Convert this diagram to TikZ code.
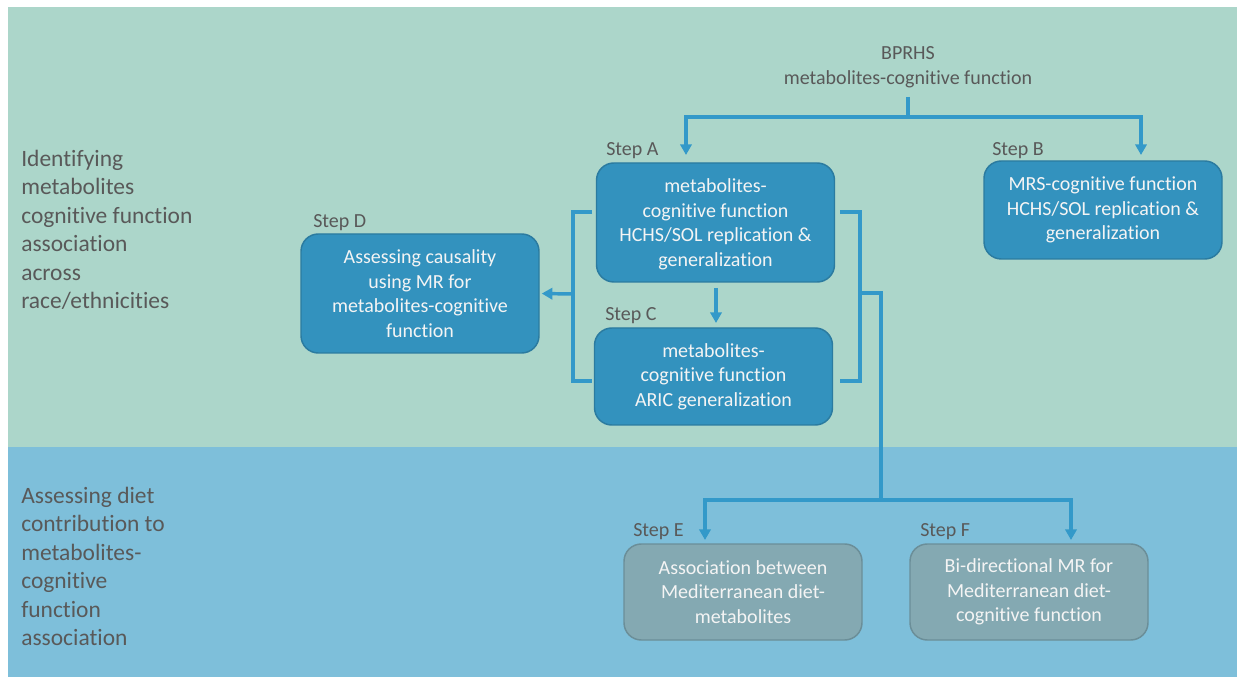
\documentclass[tikz,border=0pt]{standalone}
\usepackage{fontspec}
\setmainfont{Carlito}[Ligatures={NoCommon}]
\usetikzlibrary{arrows.meta,calc}
\definecolor{bggreen}{HTML}{ACD6CA}
\definecolor{bgblue}{HTML}{7EBFDA}
\definecolor{boxfill}{HTML}{3392BE}
\definecolor{boxedge}{HTML}{2B7BA0}
\definecolor{grayfill}{HTML}{84A9B2}
\definecolor{grayedge}{HTML}{6B8E98}
\definecolor{conncol}{HTML}{3399C9}
\definecolor{txtgray}{HTML}{595959}
\definecolor{boxtxt}{HTML}{F4F4F4}
\tikzset{
  stepbox/.style={draw=boxedge, fill=boxfill, line width=1.1pt, rounded corners=13pt,
    minimum width=178.5pt, align=center, text=boxtxt,
    font=\fontsize{15}{18.4}\selectfont, inner sep=0pt},
  graybox/.style={stepbox, draw=grayedge, fill=grayfill},
  steplabel/.style={anchor=west, text=txtgray, font=\fontsize{15}{18.4}\selectfont, inner sep=0pt},
  sidetext/.style={anchor=west, align=left, text=txtgray, font=\fontsize{17.6}{21.4}\selectfont, inner sep=0pt},
  conn/.style={draw=conncol, line width=2.6pt},
  arr/.style={conn, -{Triangle[length=8pt,width=8.5pt]}},
}
\begin{document}
\begin{tikzpicture}[x=0.75pt,y=-0.75pt]
\useasboundingbox (0,0) rectangle (1240,677);
\fill[white] (0,0) rectangle (1240,677);
\fill[bggreen] (8,7) rectangle (1237,447);
\fill[bgblue] (8,447) rectangle (1237,677);

% side texts
\node[sidetext] (s1) at (21,230) {Identifying\\metabolites\\cognitive function\\association\\across\\race/ethnicities};
\node[sidetext] (s2) at (21,566.5) {Assessing diet\\contribution to\\metabolites-\\cognitive\\function\\association};

% top text
\node[align=center, text=txtgray, font=\fontsize{15}{18.4}\selectfont, inner sep=0pt] (bp) at (908,67) {BPRHS\\metabolites-cognitive function};

% boxes
\node[stepbox, minimum height=89.25pt, text depth=0pt] (A) at (715.5,222.5) {metabolites-\\cognitive function\\HCHS/SOL replication \&\\generalization};
\node[stepbox, minimum height=73.5pt] (B) at (1103,210) {MRS-cognitive function\\HCHS/SOL replication \&\\generalization};
\node[stepbox, minimum height=72.75pt] (C) at (713.5,376.5) {metabolites-\\cognitive function\\ARIC generalization};
\node[stepbox, minimum height=89.25pt] (D) at (420,293.5) {Assessing causality\\using MR for\\metabolites-cognitive\\function};
\node[graybox, minimum height=72pt] (E) at (743,592) {Association between\\Mediterranean diet-\\metabolites};
\node[graybox, minimum height=72pt] (F) at (1029,592) {Bi-directional MR for\\Mediterranean diet-\\cognitive function};

% step labels
\node[steplabel] (lA) at (606,151) {Step A};
\node[steplabel] (lB) at (992,151) {Step B};
\node[steplabel] (lC) at (605,316) {Step C};
\node[steplabel] (lD) at (313,223) {Step D};
\node[steplabel] (lE) at (633,532) {Step E};
\node[steplabel] (lF) at (920,532) {Step F};

% connector points
\coordinate (bps) at (908,97);
\coordinate (j1) at (908,117);
\coordinate (aT) at (686,155);
\coordinate (bT) at (1141,155);
\coordinate (lb1) at (592,212);
\coordinate (lb2) at (592,381);
\coordinate (lbx) at (573,294);
\coordinate (rb1) at (840,212);
\coordinate (rb2) at (840,381);
\coordinate (rbx) at (860,293);
\coordinate (j2) at (881,500);
\coordinate (eT) at (705,540);
\coordinate (fT) at (1071,540);
\coordinate (acS) at (716,288);
\coordinate (acE) at (716,323);

\draw[conn] (bps) -- (j1);
\draw[arr] (j1) -| (aT);
\draw[arr] (j1) -| (bT);
\draw[arr] (acS) -- (acE);
\draw[conn] (lb1) -| (lbx) |- (lb2);
\draw[arr, shorten >=1.5pt] (lbx) -- (D.east);
\draw[conn] (rb1) -| (rbx) |- (rb2);
\draw[conn] (rbx) -| (j2);
\draw[arr] (j2) -| (eT);
\draw[arr] (j2) -| (fT);
\end{tikzpicture}
\end{document}
